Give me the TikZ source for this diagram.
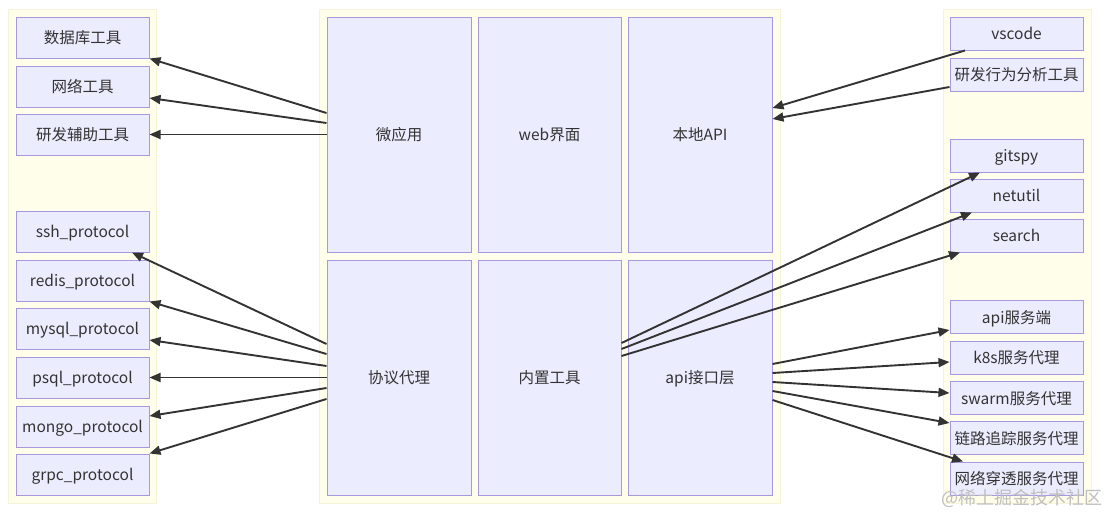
\documentclass[tikz,border=0pt]{standalone}
\usepackage{fontspec}
\setmainfont{Noto Sans CJK SC}
\usetikzlibrary{arrows.meta}
\definecolor{boxfill}{HTML}{ECECFF}
\definecolor{boxline}{HTML}{A898E0}
\definecolor{clfill}{HTML}{FEFEEA}
\definecolor{clline}{HTML}{F4F4D8}
\definecolor{txt}{HTML}{333333}
\definecolor{edge}{HTML}{333333}
\tikzset{
  cluster/.style={fill=clfill,draw=clline,line width=0.6pt},
  lbox/.style={draw=boxline,fill=boxfill,line width=1pt,minimum width=133pt,minimum height=41pt,inner sep=0pt,text=txt,text height=13pt,text depth=1pt,font=\fontsize{15.5}{18}\selectfont},
  rbox/.style={lbox,minimum height=33pt},
  cbox/.style={lbox,minimum width=144pt,minimum height=235pt},
  arr/.style={draw=edge,line width=1.9pt,-{Triangle[length=11pt,width=9pt]}}
}
\begin{document}
\begin{tikzpicture}[x=1pt,y=-1pt]
\useasboundingbox (0,0) rectangle (1109,514);
\fill[white] (0,0) rectangle (1109,514);
% clusters
\draw[cluster] (8,9) rectangle (156,503);
\draw[cluster] (319,9) rectangle (780,503);
\draw[cluster] (943,9) rectangle (1091,503);
% left nodes
\node[lbox] (db)    at (82.5,37.5)  {数据库工具};
\node[lbox] (net)   at (82.5,86.5)  {网络工具};
\node[lbox] (dev)   at (82.5,134.5) {研发辅助工具};
\node[lbox] (ssh)   at (82.5,231.5) {ssh\_protocol};
\node[lbox] (redis) at (82.5,280.5) {redis\_protocol};
\node[lbox] (mysql) at (82.5,328.5) {mysql\_protocol};
\node[lbox] (psql)  at (82.5,377.5) {psql\_protocol};
\node[lbox] (mongo) at (82.5,426.5) {mongo\_protocol};
\node[lbox] (grpc)  at (82.5,474.5) {grpc\_protocol};
% center nodes
\node[cbox] (wy)   at (399,134.5)   {微应用};
\node[cbox,minimum width=143pt] (web)  at (549.5,134.5) {web界面};
\node[cbox] (lapi) at (700,134.5)   {本地API};
\node[cbox] (xy)   at (399,377.5)   {协议代理};
\node[cbox,minimum width=143pt] (nz)   at (549.5,377.5) {内置工具};
\node[cbox] (apil) at (700,377.5)   {api接口层};
% right nodes
\node[rbox] (vs)    at (1016.5,33.5)  {vscode};
\node[rbox] (yf)    at (1016.5,74.5)  {研发行为分析工具};
\node[rbox] (git)   at (1016.5,155.5) {gitspy};
\node[rbox] (nu)    at (1016.5,195.5) {netutil};
\node[rbox] (sr)    at (1016.5,235.5) {search};
\node[rbox] (apis)  at (1016.5,317)   {api服务端};
\node[rbox] (k8s)   at (1016.5,357.5) {k8s服务代理};
\node[rbox] (swarm) at (1016.5,398)   {swarm服务代理};
\node[rbox] (ll)    at (1016.5,438)   {链路追踪服务代理};
\node[rbox] (wl)    at (1016.5,478.5) {网络穿透服务代理};
% edges: 微应用 -> left top
\draw[arr] ([yshift=21.5pt]wy.west) -- (db.south east);
\draw[arr] ([yshift=11.5pt]wy.west) -- ([yshift=-11.5pt]net.east);
\draw[arr] (wy.west) -- (dev.east);
% 协议代理 -> protocols
\draw[arr] ([yshift=33.5pt]xy.west) -- ([xshift=49.5pt]ssh.south);
\draw[arr] ([yshift=23.5pt]xy.west) -- (redis.south east);
\draw[arr] ([yshift=11.5pt]xy.west) -- ([yshift=-11.5pt]mysql.east);
\draw[arr] (xy.west) -- (psql.east);
\draw[arr] ([yshift=-10.5pt]xy.west) -- ([yshift=10.5pt]mongo.east);
\draw[arr] ([yshift=-21.5pt]xy.west) -- (grpc.north east);
% vscode / 研发行为 -> 本地API
\draw[arr] ([xshift=-51.5pt]vs.south) -- ([yshift=26.5pt]lapi.east);
\draw[arr] ([yshift=-12.5pt]yf.west) -- ([yshift=15.5pt]lapi.east);
% 内置工具 -> tools
\draw[arr] ([yshift=34.5pt]nz.east) -- ([xshift=-36.5pt]git.south);
\draw[arr] ([yshift=28.5pt]nz.east) -- ([xshift=-44.5pt]nu.south);
\draw[arr] ([yshift=21.5pt]nz.east) -- ([xshift=-56.5pt]sr.south);
% api接口层 -> services
\draw[arr] ([yshift=13.5pt]apil.east) -- ([yshift=-13pt]apis.west);
\draw[arr] ([yshift=4.5pt]apil.east) -- ([yshift=-4.5pt]k8s.west);
\draw[arr] ([yshift=-4.5pt]apil.east) -- ([yshift=5pt]swarm.west);
\draw[arr] ([yshift=-13.5pt]apil.east) -- ([yshift=15pt]ll.west);
\draw[arr] ([yshift=-22.5pt]apil.east) -- ([xshift=-53.5pt]wl.north);
% watermark
\node[text=black!25,font=\fontsize{18}{20}\selectfont,inner sep=0pt] (wm) at (1022,498) {@稀土掘金技术社区};
\end{tikzpicture}
\end{document}
